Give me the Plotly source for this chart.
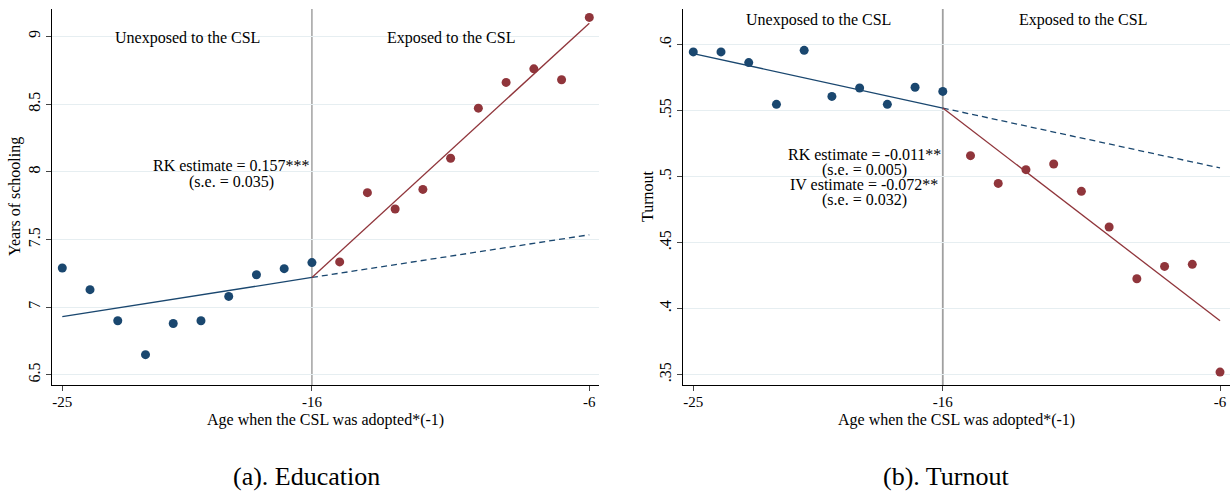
import plotly.graph_objects as go

# ---------------- data ----------------
x_unexp = [-25, -24, -23, -22, -21, -20, -19, -18, -17, -16]
x_exp = [-15, -14, -13, -12, -11, -10, -9, -8, -7, -6]

edu_unexp = [7.29, 7.13, 6.90, 6.65, 6.88, 6.90, 7.08, 7.24, 7.285, 7.33]
edu_exp = [7.335, 7.846, 7.725, 7.87, 8.10, 8.47, 8.66, 8.76, 8.68, 9.14]

turn_unexp = [0.5945, 0.5945, 0.5864, 0.5548, 0.5957, 0.5608, 0.5672, 0.5548, 0.5677, 0.5646]
turn_exp = [0.5159, 0.4949, 0.5053, 0.5096, 0.4889, 0.4619, 0.4227, 0.4320, 0.4336, 0.3520]

# fitted lines: start, kink, end
fit_x_left = [-25, -16]
fit_x_right = [-16, -6]
edu_fit_left = [6.93, 7.22]
edu_fit_right = [7.22, 9.097]
edu_fit_cf = [7.22, 7.535]
turn_fit_left = [0.5932, 0.552]
turn_fit_right = [0.552, 0.3909]
turn_fit_cf = [0.552, 0.5066]

cutoff = -16
x_ticks = [-25, -16, -6]
edu_ticks = [6.5, 7, 7.5, 8, 8.5, 9]
edu_ticklabels = ["6.5", "7", "7.5", "8", "8.5", "9"]
turn_ticks = [0.35, 0.4, 0.45, 0.5, 0.55, 0.6]
turn_ticklabels = [".35", ".4", ".45", ".5", ".55", ".6"]

BLUE = "#1a476f"
RED = "#90353b"
GRID = "#e6eef1"
FONT = "Liberation Serif"

W, H = 1230, 491
T, B = 9, 385  # plot area top / bottom in pixels

fig = go.Figure()

def add_panel(xa, ya, y_un, y_ex, fl, fr, fcf):
    fig.add_trace(go.Scatter(x=fit_x_left, y=fl, mode="lines",
                             line=dict(color=BLUE, width=1.3), xaxis=xa, yaxis=ya))
    fig.add_trace(go.Scatter(x=fit_x_right, y=fcf, mode="lines",
                             line=dict(color=BLUE, width=1.3, dash="6px,4px"), xaxis=xa, yaxis=ya))
    fig.add_trace(go.Scatter(x=fit_x_right, y=fr, mode="lines",
                             line=dict(color=RED, width=1.3), xaxis=xa, yaxis=ya))
    fig.add_trace(go.Scatter(x=x_unexp, y=y_un, mode="markers",
                             marker=dict(color=BLUE, size=9), xaxis=xa, yaxis=ya))
    fig.add_trace(go.Scatter(x=x_exp, y=y_ex, mode="markers",
                             marker=dict(color=RED, size=9), xaxis=xa, yaxis=ya))

add_panel("x", "y", edu_unexp, edu_exp, edu_fit_left, edu_fit_right, edu_fit_cf)
add_panel("x2", "y2", turn_unexp, turn_exp, turn_fit_left, turn_fit_right, turn_fit_cf)

common_x = dict(range=[-25.36, -5.64], tickvals=x_ticks, ticktext=[str(v) for v in x_ticks],
                showgrid=False, zeroline=False, showline=True, linecolor="black", linewidth=1.3,
                ticks="outside", ticklen=5, tickcolor="#444", tickwidth=1.2, automargin=False,
                ticklabelstandoff=-2,
                tickfont=dict(family=FONT, size=15, color="black"))
common_y = dict(showgrid=True, gridcolor=GRID, gridwidth=1.3, zeroline=False, showline=True,
                linecolor="black", linewidth=1.3, ticks="outside", ticklen=5, tickcolor="#444",
                tickwidth=1.2, tickangle=-90, automargin=False,
                tickfont=dict(family=FONT, size=16, color="black"))

fig.update_layout(
    template="none",
    width=W, height=H,
    margin=dict(l=0, r=0, t=T, b=H - B, pad=0),
    paper_bgcolor="white", plot_bgcolor="white",
    showlegend=False,
    xaxis=dict(domain=[52.3 / W, 599.3 / W], anchor="y", **common_x),
    xaxis2=dict(domain=[683.3 / W, 1.0], anchor="y2", **common_x),
    yaxis=dict(domain=[0, 1], anchor="x", range=[6.426, 9.202], tickvals=edu_ticks,
               ticktext=edu_ticklabels, **common_y),
    yaxis2=dict(domain=[0, 1], anchor="x2", range=[0.3422, 0.627], tickvals=turn_ticks,
                ticktext=turn_ticklabels, **common_y),
)

# cutoff lines
fig.add_shape(type="line", xref="x", yref="y domain", x0=cutoff, x1=cutoff, y0=0, y1=1,
              line=dict(color="#8a8a8a", width=1.2), layer="below")
fig.add_shape(type="line", xref="x2", yref="y2 domain", x0=cutoff, x1=cutoff, y0=0, y1=1,
              line=dict(color="#a0a0a0", width=1.8), layer="below")

def ann(text, x, y, xr, yr, size=16):
    fig.add_annotation(text=text, x=x, y=y, xref=xr, yref=yr, showarrow=False,
                       font=dict(family=FONT, size=size, color="black"),
                       xanchor="center", yanchor="middle")

ann("Unexposed to the CSL", -20.5, 8.99, "x", "y")
ann("Exposed to the CSL", -11.0, 8.99, "x", "y")
ann("RK estimate = 0.157***", -18.9, 8.05, "x", "y")
ann("(s.e. = 0.035)", -18.9, 7.922, "x", "y")

ann("Unexposed to the CSL", -20.5, 0.619, "x2", "y2")
ann("Exposed to the CSL", -10.96, 0.619, "x2", "y2")
ann("RK estimate = -0.011**", -18.83, 0.5167, "x2", "y2")
ann("(s.e. = 0.005)", -18.83, 0.5048, "x2", "y2")
ann("IV estimate = -0.072**", -18.83, 0.4939, "x2", "y2")
ann("(s.e. = 0.032)", -18.83, 0.4826, "x2", "y2")

def paper_ann(text, px, py, size, angle=0):
    fig.add_annotation(text=text, x=px / W, y=(B - py) / (B - T), xref="paper", yref="paper",
                       showarrow=False, textangle=angle,
                       font=dict(family=FONT, size=size, color="black"),
                       xanchor="center", yanchor="middle")

# axis titles
paper_ann("Age when the CSL was adopted*(-1)", 325, 420, 16)
paper_ann("Age when the CSL was adopted*(-1)", 956, 420, 16)
paper_ann("Years of schooling", 15, 197, 16, angle=-90)
paper_ann("Turnout", 647, 196, 16, angle=-90)

# captions
paper_ann("(a). Education", 306, 476, 26)
paper_ann("(b). Turnout", 946, 476, 26)

fig.write_html("out.html", config={"displayModeBar": False},
               post_script="document.body.style.margin='0px';")
